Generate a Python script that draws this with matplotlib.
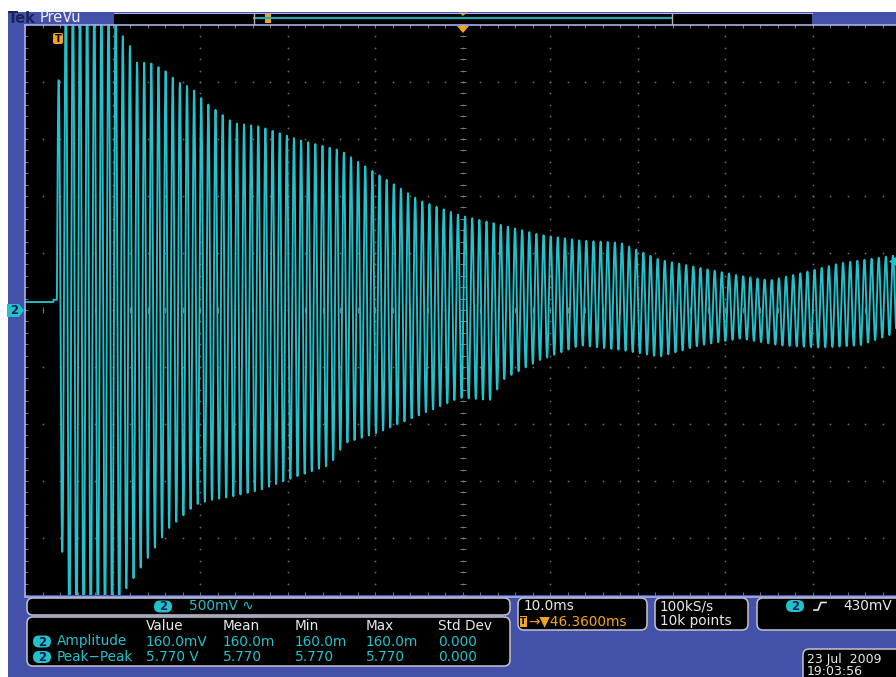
import numpy as np
import matplotlib
matplotlib.use("Agg")
import matplotlib.pyplot as plt
from matplotlib.patches import Rectangle, FancyBboxPatch, Polygon

plt.rcParams["font.family"] = ["DejaVu Sans"]

# acquisition: 10 ms/div, 500 mV/div, trigger 46.36 ms left of centre
T_DIV = 10.0
V_DIV = 0.5
T_CENTER = 46.36
FS_KHZ = 100.0          # 100 kS/s
F_RING = 1.227          # ring frequency, kHz
BASELINE = 0.07         # pre-trigger level, V

# decaying envelope (ms, V)
up_t = [0.0, 0.24, 1.04, 6.64, 7.44, 8.24, 9.04, 10.6, 12.2, 13.8, 15.4, 17.0,
        18.6, 20.2, 23.2, 27.8, 32.4, 36.9, 41.5, 46.1, 50.6, 55.2, 59.8, 64.4,
        68.9, 73.5, 78.1, 81.5, 84.9, 89.5, 95.9]
up_v = [2.0, 2.02, 2.9, 2.75, 2.41, 2.34, 2.17, 2.17, 2.11, 2.0, 1.95, 1.82,
        1.73, 1.64, 1.61, 1.49, 1.40, 1.18, 0.96, 0.83, 0.75, 0.66, 0.61, 0.59,
        0.44, 0.37, 0.30, 0.26, 0.32, 0.41, 0.48]
lo_t = [0.0, 0.58, 1.27, 7.2, 7.8, 9.4, 11.0, 12.6, 14.2, 15.8, 17.4, 19.8,
        23.2, 27.8, 31.2, 32.9, 36.9, 41.5, 46.1, 49.5, 51.2, 55.2, 59.8, 64.4,
        68.9, 73.5, 78.1, 82.6, 87.2, 91.8, 95.9]
lo_v = [-2.0, -2.08, -2.9, -2.75, -2.46, -2.28, -2.11, -1.93, -1.82, -1.71,
        -1.67, -1.64, -1.58, -1.45, -1.36, -1.17, -1.07, -0.92, -0.77, -0.79,
        -0.60, -0.44, -0.31, -0.35, -0.41, -0.31, -0.25, -0.31, -0.33, -0.31,
        -0.20]

meas_cols = ["Value", "Mean", "Min", "Max", "Std Dev"]
meas_rows = ["Amplitude", "Peak\u2212Peak"]
meas_vals = [["160.0mV", "160.0m", "160.0m", "160.0m", "0.000"],
             ["5.770 V", "5.770", "5.770", "5.770", "0.000"]]

CYAN = "#22c2cc"
ORANGE = "#f2a51c"
BLUE = "#4352a8"
LAV = "#a8b0e8"
BORDER = "#c4c4cc"
WHITE = "#e8e8ee"

W, H = 896, 677
fig = plt.figure(figsize=(W / 100, H / 100), dpi=100, facecolor=BLUE)

# screen area in pixels: x 25..896 (cropped), y 25..595
px_div_x, px_div_y = 87.5, 57.0
left, top, bottom = 25, 25, 595
t_left = T_CENTER - 5 * T_DIV
t_right = t_left + (W - left) / px_div_x * T_DIV
ax = fig.add_axes([left / W, 1 - bottom / H, (W - left) / W, (bottom - top) / H])
ax.set_facecolor("black")
ax.set_xlim(t_left, t_right)
ax.set_ylim(-5 * V_DIV, 5 * V_DIV)
ax.set_xticks([]); ax.set_yticks([])
for s in ax.spines.values():
    s.set_visible(False)

# graticule: dotted major lines, ticked centre cross
dot = dict(ls="none", marker="o", ms=1.3, color="#6a6a6a", mew=0, zorder=1)
tick = dict(ls="none", color="#7a7a7a", mew=0.7, zorder=2)
vx = t_left + T_DIV * np.arange(1, 10)
hy = V_DIV * np.arange(-4, 5)
ysub = np.arange(-5 * V_DIV, 5 * V_DIV + 1e-9, V_DIV / 5)
xsub = np.arange(t_left, t_right, T_DIV / 5)
for x in vx:
    ax.plot(np.full_like(ysub, x), ysub, **dot)
for y in hy:
    ax.plot(xsub, np.full_like(xsub, y), **dot)
ax.plot(np.full_like(ysub, T_CENTER), ysub, marker="_", ms=5, **tick)
ax.plot(xsub, np.zeros_like(xsub), marker="|", ms=5, **tick)
ax.plot(xsub, np.full_like(xsub, 5 * V_DIV), marker="|", ms=5, **tick)
ax.plot(xsub, np.full_like(xsub, -5 * V_DIV), marker="|", ms=5, **tick)
ax.plot(np.full_like(ysub, t_left), ysub, marker="_", ms=5, **tick)

# trace: baseline before the trigger, ringing after it
t = np.arange(t_left, t_right, 1.0 / FS_KHZ)
upper = np.interp(t, up_t, up_v)
lower = np.interp(t, lo_t, lo_v)
mid = (upper + lower) / 2
amp = (upper - lower) / 2
v = np.where(t < 0, BASELINE + 0.02 * (t > -0.4),
             mid + amp * np.sin(2 * np.pi * F_RING * t))
ax.plot(t, v, color=CYAN, lw=1.35, zorder=3)

# everything around the screen, in pixel units
ov = fig.add_axes([0, 0, 1, 1], zorder=5)
ov.set_xlim(0, W); ov.set_ylim(H, 0)
ov.axis("off")
ov.patch.set_alpha(0)

ov.add_patch(Rectangle((0, 0), W, 12, color="white", lw=0))
ov.add_patch(Rectangle((0, 0), 8, H, color="white", lw=0))

# record view bar
ov.add_patch(Rectangle((114, 12.5), 698, 12, color="black", lw=0))
ov.plot([114, 812], [12.8, 12.8], color=LAV, lw=0.8)
ov.plot([254, 672], [18, 18], color="#2aa8aa", lw=1.6)
ov.plot([254, 254], [13, 24], color="#b0b0b0", lw=1)
ov.plot([672, 672], [13, 24], color="#b0b0b0", lw=1)
ov.add_patch(Rectangle((265, 14), 6, 9, color=ORANGE, lw=0))
ov.text(8, 18.5, "Tek", color="#1a2258", fontsize=10.5, fontweight="bold", va="center")
ov.text(40, 18, "PreVu", color="#eef0ff", fontsize=10.5, va="center")
ov.add_patch(Polygon([[459, 12.5], [467, 12.5], [463, 16]], color=ORANGE, lw=0))

# screen border
ov.plot([25, W], [25, 25], color=LAV, lw=1.2)
ov.plot([25, 25], [25, 596], color=LAV, lw=1.2)
ov.plot([25, W], [596.5, 596.5], color=LAV, lw=1.2)

# trigger position and markers
ov.add_patch(Polygon([[457, 26], [469, 26], [463, 33]], color=ORANGE, lw=0))
ov.add_patch(FancyBboxPatch((53, 33), 10, 11, boxstyle="round,pad=0,rounding_size=2",
                            fc=ORANGE, ec="none"))
ov.text(58, 38.8, "T", color="black", fontsize=7, fontweight="bold",
        ha="center", va="center")
ov.add_patch(Polygon([[7, 304], [19, 304], [24, 310.5], [19, 317], [7, 317]],
                     closed=True, fc=CYAN, ec="none"))
ov.text(14, 311, "2", color="#102050", fontsize=8.5, fontweight="bold",
        ha="center", va="center")
ov.add_patch(Polygon([[896, 257], [896, 266], [889, 261.5]], color=CYAN, lw=0))


def panel(x0, y0, x1, y1):
    ov.add_patch(FancyBboxPatch((x0, y0), x1 - x0, y1 - y0,
                                boxstyle="round,pad=0,rounding_size=6",
                                fc="black", ec=BORDER, lw=1.1))


def badge(xc, yc):
    ov.add_patch(FancyBboxPatch((xc - 9, yc - 6), 18, 12,
                                boxstyle="round,pad=0,rounding_size=6",
                                fc=CYAN, ec="none"))
    ov.text(xc, yc + 0.5, "2", color="#102050", fontsize=8.5,
            fontweight="bold", ha="center", va="center")


fs = 9.8
panel(27, 598, 510, 615)
badge(163, 606.5)
ov.text(189, 606.5, "500mV \u223f", color=CYAN, fontsize=fs, va="center")

panel(27, 617, 510, 666)
col_x = [146, 223, 295, 366, 438]
for x, name in zip(col_x, meas_cols):
    ov.text(x, 626, name, color=WHITE, fontsize=fs, va="center")
for r, (name, vals) in enumerate(zip(meas_rows, meas_vals)):
    y = 641.5 + 15.5 * r
    badge(42, y)
    ov.text(57, y, name, color=CYAN, fontsize=fs, va="center")
    for x, val in zip(col_x, vals):
        ov.text(x, y, val, color=CYAN, fontsize=fs, va="center")

panel(518, 598, 647, 630)
ov.text(524, 606, "10.0ms", color=WHITE, fontsize=fs, va="center")
ov.add_patch(Rectangle((520, 615.5), 7, 11, color=ORANGE, lw=0))
ov.text(523.5, 621.3, "T", color="black", fontsize=6.5, fontweight="bold",
        ha="center", va="center")
ov.text(528, 621, "\u2192\u25bc46.3600ms", color=ORANGE, fontsize=fs, va="center")

panel(655, 598, 748, 630)
ov.text(660, 606, "100kS/s", color=WHITE, fontsize=fs, va="center")
ov.text(660, 621, "10k points", color=WHITE, fontsize=fs, va="center")

panel(757, 598, 905, 630)
badge(795, 606)
ov.plot([814, 818, 821, 826], [610, 610, 602.5, 602.5], color=WHITE, lw=1.2)
ov.text(843, 606, "430mV", color=WHITE, fontsize=fs, va="center")

panel(803, 649, 905, 690)
ov.text(807, 659, "23 Jul  2009", color=WHITE, fontsize=9, va="center")
ov.text(807, 671.5, "19:03:56", color=WHITE, fontsize=9, va="center")

fig.savefig("out.png", dpi=100, facecolor=BLUE)
